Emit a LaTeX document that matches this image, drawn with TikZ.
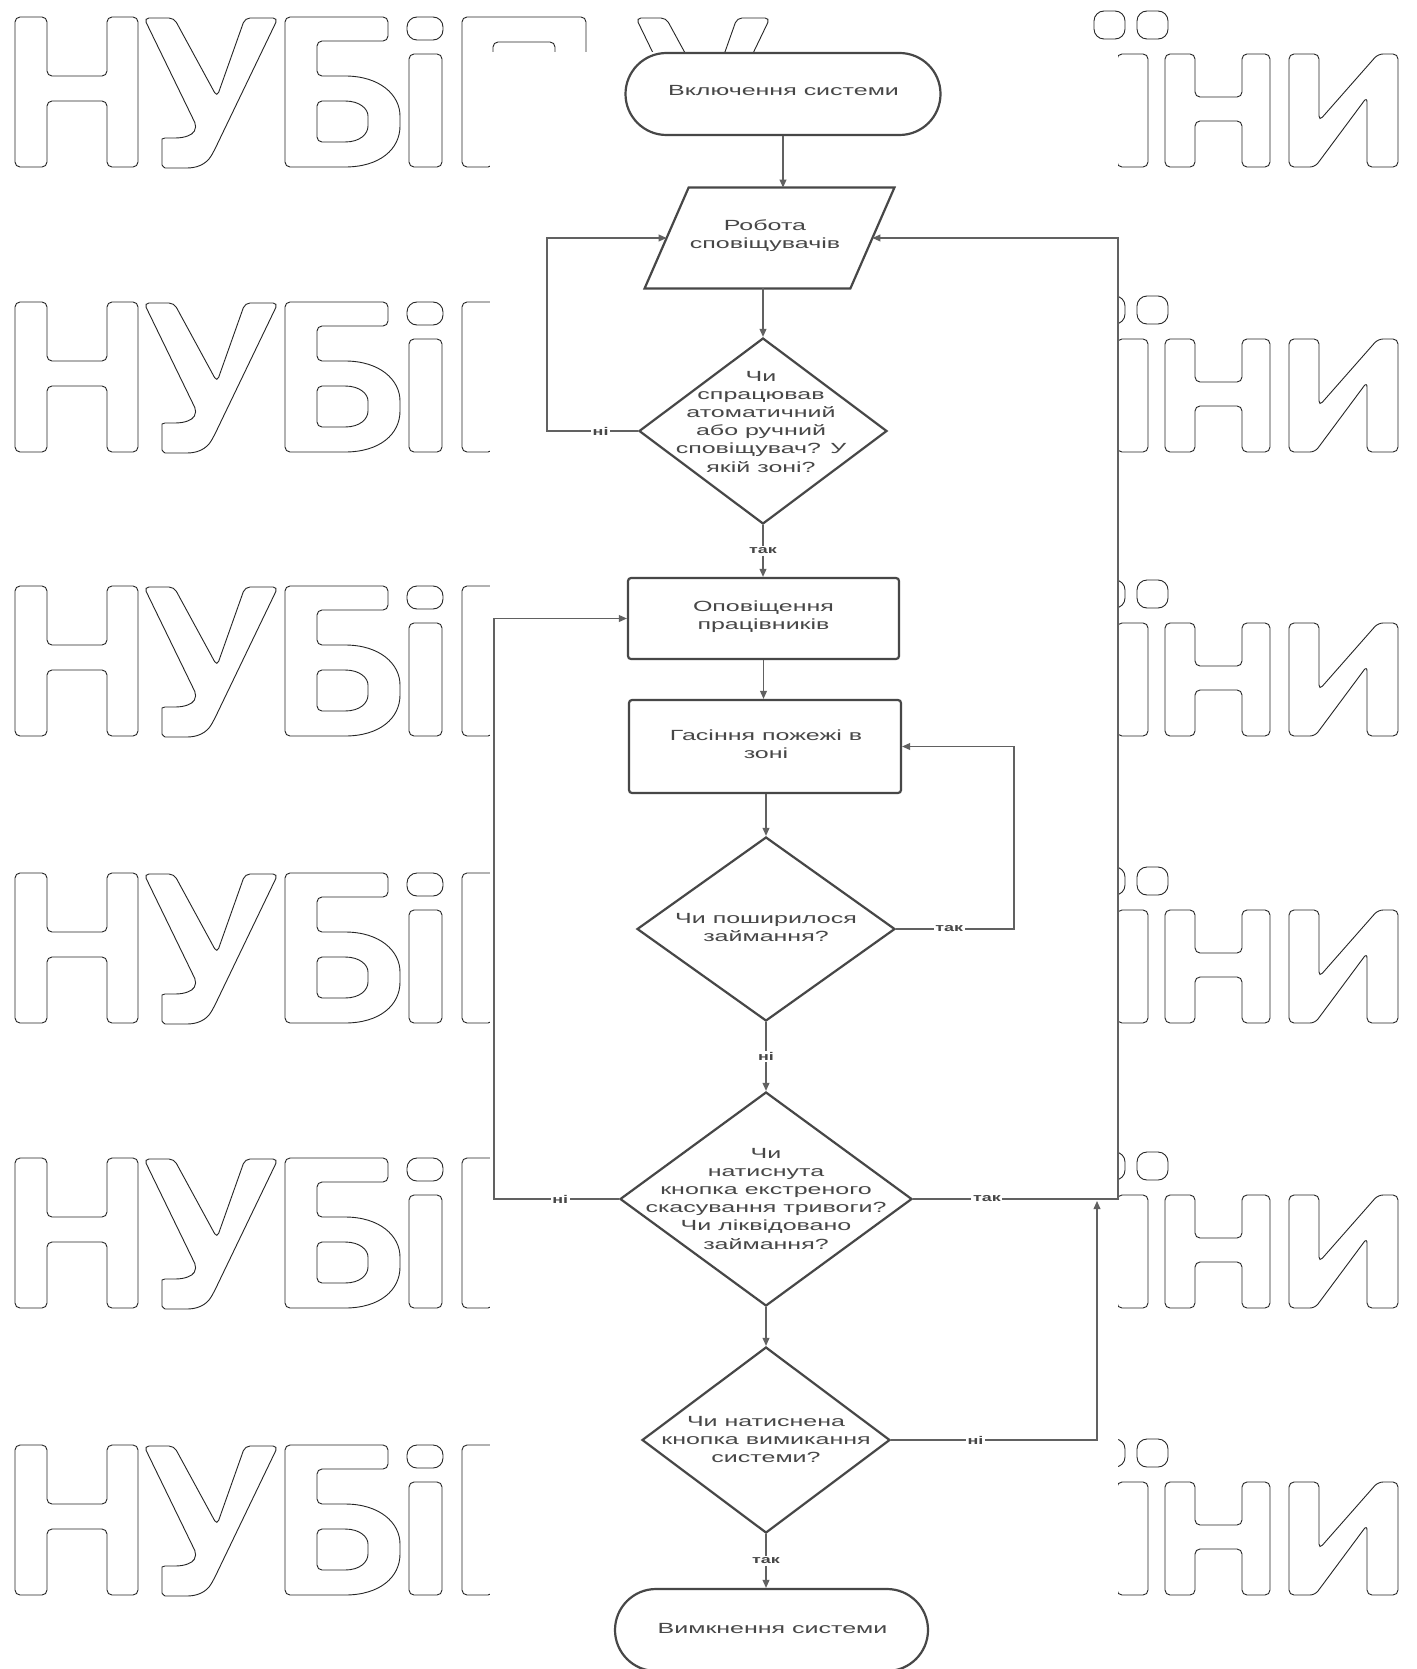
\documentclass[tikz,border=0pt]{standalone}
\usepackage{fontspec}
\setmainfont{Liberation Sans}
\usetikzlibrary{shapes.geometric,shapes.misc,arrows.meta,calc}
\newcommand{\pxu}{0.5pt}
\newcommand{\ft}[1]{\scalebox{1.7}[1]{\begin{tabular}{@{}c@{}}#1\end{tabular}}}
\newcommand{\lb}[1]{\scalebox{1.6}[1]{#1}}
\newcommand{\wmletterY}{%
  (144,1) -- (174,1) -- (217,80) -- (245,1) -- (278,1) -- (214,134)
  .. controls (206,148) and (196,151) .. (182,151) -- (170,151)
  .. controls (164,151) and (162,148) .. (162,143) -- (162,127)
  .. controls (162,122) and (165,121) .. (170,121)
  .. controls (185,121) and (192,118) .. (197,110) -- cycle}
\newcommand{\wmrow}[1]{%
\begin{scope}[shift={(0,#1)}]
  % Н
  \draw[wm] (15,0) -- (47,0) -- (47,59) -- (107,59) -- (107,0) -- (138,0) -- (138,150) -- (107,150) -- (107,84) -- (47,84) -- (47,150) -- (15,150) -- cycle;
  % У
  \draw[wm] \wmletterY;
  % Б
  \draw[wm] (285,0) -- (388,0) -- (388,24) -- (317,24) -- (317,59) -- (340,59)
     .. controls (380,59) and (400,78) .. (400,104) .. controls (400,132) and (380,150) .. (340,150) -- (285,150) -- cycle;
  \draw[wm] (317,84) -- (340,84) .. controls (360,84) and (368,92) .. (368,104)
     .. controls (368,117) and (360,125) .. (340,125) -- (317,125) -- cycle;
  % і
  \draw[wm,rounded corners=5pt] (407,0) rectangle (443,23);
  \draw[wm] (409,37) rectangle (442,150);
  % П
  \draw[wm] (462,0) -- (586,0) -- (586,150) -- (555,150) -- (555,25) -- (493,25) -- (493,150) -- (462,150) -- cycle;
  % У (України)
  \begin{scope}[shift={(492,0)}]
    \draw[wm] \wmletterY;
  \end{scope}
  % ї
  \draw[wm,rounded corners=5pt] (1094,-6) rectangle (1125,22);
  \draw[wm,rounded corners=5pt] (1137,-6) rectangle (1168,22);
  \draw[wm] (1117,37) rectangle (1148,150);
  % н
  \draw[wm] (1165,37) -- (1195,37) -- (1195,80) -- (1242,80) -- (1242,37) -- (1270,37) -- (1270,150) -- (1242,150) -- (1242,104) -- (1195,104) -- (1195,150) -- (1165,150) -- cycle;
  % и
  \draw[wm] (1289,37) -- (1319,37) -- (1319,104) -- (1378,37) -- (1398,37) -- (1398,150) -- (1367,150) -- (1367,80) -- (1315,150) -- (1289,150) -- cycle;
\end{scope}}

\begin{document}
\begin{tikzpicture}[x=0.5pt,y=-0.5pt,
  wm/.style={draw=black!85,line width=0.45pt,rounded corners=2.5pt},
  shp/.style={draw=black!72,line width=1.1pt},
  term/.style={shp,rounded rectangle,minimum width=315*\pxu,minimum height=82*\pxu,inner sep=0pt},
  procbox/.style={shp,rectangle,rounded corners=1.5pt,inner sep=0pt},
  decision/.style={shp,diamond,inner sep=0pt},
  txt/.style={inner sep=0pt,text=black!72,font=\fontsize{7.35pt}{9.1pt}\selectfont},
  conn/.style={draw=black!62,line width=0.65pt,-{Triangle[length=4pt,width=3.4pt]}},
  lbl/.style={fill=white,inner sep=0.8pt,text=black!72,font=\bfseries\fontsize{5.6pt}{6pt}\selectfont}]
\useasboundingbox (0,0) rectangle (1417,1669);
\clip (0,0) rectangle (1417,1669);
\fill[white] (0,0) rectangle (1417,1669);

% watermark
\foreach \r in {17,302,586,873,1158,1445} {\wmrow{\r}}
\fill[white] (490,52) rectangle (1118,1669);

% shapes
\node[term] (t1) at (783,94) {};
\node[txt] (t1x) at (783.5,92) {\ft{Включення системи}};

\node[inner sep=0pt,minimum width=205*\pxu,minimum height=100*\pxu] (p) at (769.5,238) {};
\draw[shp] ($(p.north west)+(22,0)$) -- ($(p.north east)+(22,0)$) -- ($(p.south east)+(-22,0)$) -- ($(p.south west)+(-22,0)$) -- cycle;
\node[txt] (px) at (765,236) {\ft{Робота\\сповіщувачів}};

\node[decision,minimum width=248*\pxu,minimum height=186*\pxu] (d1) at (763,431) {};
\node[txt] (d1x) at (761,423) {\ft{Чи\\спрацював\\атоматичний\\або ручний\\сповіщувач? У\\якій зоні?}};

\node[procbox,minimum width=271*\pxu,minimum height=81*\pxu] (b1) at (763.5,618.5) {};
\node[txt] (b1x) at (763.5,617) {\ft{Оповіщення\\працівників}};

\node[procbox,minimum width=272*\pxu,minimum height=93*\pxu] (b2) at (765,746.5) {};
\node[txt] (b2x) at (766,746) {\ft{Гасіння пожежі в\\зоні}};

\node[decision,minimum width=258*\pxu,minimum height=184*\pxu] (d2) at (766,929) {};
\node[txt] (d2x) at (766,929) {\ft{Чи поширилося\\займання?}};

\node[decision,minimum width=292*\pxu,minimum height=214*\pxu] (d3) at (766,1199) {};
\node[txt] (d3x) at (766,1200) {\ft{Чи\\натиснута\\кнопка екстреного\\скасування тривоги?\\Чи ліквідовано\\займання?}};

\node[decision,minimum width=248*\pxu,minimum height=186*\pxu] (d4) at (766,1440) {};
\node[txt] (d4x) at (766,1441) {\ft{Чи натиснена\\кнопка вимикання\\системи?}};

\node[term,minimum width=313*\pxu] (t2) at (771.5,1630) {};
\node[txt] (t2x) at (772.5,1630) {\ft{Вимкнення системи}};

% helper coordinates for loop columns
\coordinate (xL1) at (547,0);
\coordinate (xL3) at (494,0);
\coordinate (xR2) at (1014,0);
\coordinate (xR3) at (1118,0);
\coordinate (j) at (1097,1201);

% main flow
\draw[conn] (t1.south) -- (t1.south |- p.north);
\draw[conn] (d1.north |- p.south) -- (d1.north);
\draw[conn] (d1.south) -- node[lbl]{\lb{так}} (d1.south |- b1.north);
\draw[conn] (b1.south) -- (b1.south |- b2.north);
\draw[conn] (d2.north |- b2.south) -- (d2.north);
\draw[conn] (d2.south) -- node[lbl]{\lb{ні}} (d3.north);
\draw[conn] (d3.south) -- (d4.north);
\draw[conn] (d4.south) -- node[lbl]{\lb{так}} (d4.south |- t2.north);

% loops
\draw[conn] (d1.west) -- node[lbl,pos=0.41]{\lb{ні}} (d1.west -| xL1) |- (p.west);
\draw[conn] (d2.east) -- node[lbl,pos=0.45]{\lb{так}} (d2.east -| xR2) |- (b2.east);
\draw[conn] (d3.west) -- node[lbl,pos=0.47]{\lb{ні}} (d3.west -| xL3) |- (b1.west);
\draw[conn] (d3.east) -- node[lbl,pos=0.36]{\lb{так}} (d3.east -| xR3) |- (p.east);
\draw[conn] (d4.east) -- node[lbl,pos=0.41]{\lb{ні}} (d4.east -| j) -- (j);
\end{tikzpicture}
\end{document}
